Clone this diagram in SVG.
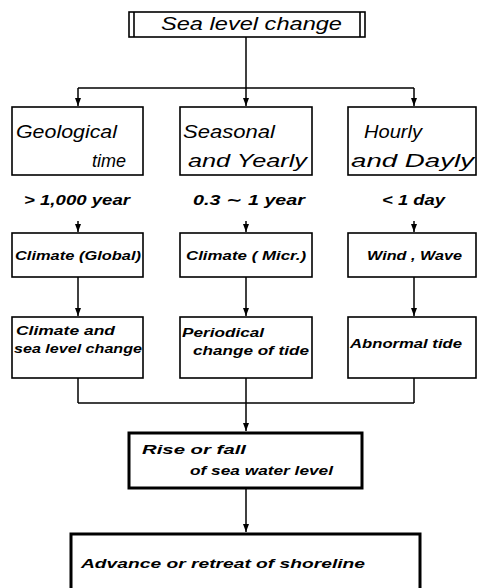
<svg xmlns="http://www.w3.org/2000/svg" width="477" height="588" viewBox="0 0 477 588">
<defs>
<marker id="ah" viewBox="0 0 8 6" refX="8" refY="3" markerWidth="8" markerHeight="6" markerUnits="userSpaceOnUse" orient="auto">
<path d="M0,0 L8,3 L0,6 Z" fill="#000"/>
</marker>
</defs>
<style>
text{font-family:"Liberation Sans","DejaVu Sans",sans-serif;font-style:italic;fill:#000}
.box{fill:#fff;stroke:#000;stroke-width:1.6}
.thick{fill:#fff;stroke:#000;stroke-width:3}
.big{font-size:18px}
.lab{font-size:15px;font-weight:bold}
.sm{font-size:13px;font-weight:bold}
.con{fill:none;stroke:#000;stroke-width:1.5}
.arr{marker-end:url(#ah)}
</style>
<rect width="477" height="588" fill="#fff"/>
<g id="connectors">
<line class="con" x1="246" y1="37" x2="246" y2="88"/>
<line class="con" x1="78" y1="88" x2="414" y2="88"/>
<line class="con arr" x1="78" y1="88" x2="78" y2="106"/>
<line class="con arr" x1="246" y1="88" x2="246" y2="106"/>
<line class="con arr" x1="414" y1="88" x2="414" y2="106"/>
<line class="con arr" x1="78" y1="221" x2="78" y2="232"/>
<line class="con arr" x1="246" y1="221" x2="246" y2="232"/>
<line class="con arr" x1="414" y1="221" x2="414" y2="232"/>
<line class="con arr" x1="78" y1="277" x2="78" y2="316"/>
<line class="con arr" x1="246" y1="277" x2="246" y2="316"/>
<line class="con arr" x1="414" y1="277" x2="414" y2="316"/>
<line class="con" x1="78" y1="378" x2="78" y2="403"/>
<line class="con" x1="414" y1="378" x2="414" y2="403"/>
<line class="con" x1="246" y1="378" x2="246" y2="403"/>
<line class="con" x1="78" y1="403" x2="414" y2="403"/>
<line class="con arr" x1="246" y1="403" x2="246" y2="431"/>
<line class="con arr" x1="246" y1="489" x2="246" y2="532"/>
</g>
<g id="sea-level-change">
<rect class="box" x="129" y="12" width="236" height="25" stroke-width="2.2"/>
<line x1="134" y1="12" x2="134" y2="37" stroke="#000" stroke-width="1.6"/>
<line x1="360" y1="12" x2="360" y2="37" stroke="#000" stroke-width="1.6"/>
<text class="big" x="161" y="30" textLength="181" lengthAdjust="spacingAndGlyphs">Sea level change</text>
</g>
<g id="geological">
<rect class="box" x="12" y="107" width="131" height="68"/>
<text class="big" x="16" y="138" textLength="101" lengthAdjust="spacingAndGlyphs">Geological</text>
<text class="big" x="126" y="167" text-anchor="end">time</text>
</g>
<g id="seasonal">
<rect class="box" x="180" y="107" width="132" height="68"/>
<text class="big" x="183" y="138" textLength="92" lengthAdjust="spacingAndGlyphs">Seasonal</text>
<text class="big" x="188" y="167" textLength="119" lengthAdjust="spacingAndGlyphs">and  Yearly</text>
</g>
<g id="hourly">
<rect class="box" x="348" y="107" width="128" height="68"/>
<text class="big" x="364" y="138" textLength="58" lengthAdjust="spacingAndGlyphs">Hourly</text>
<text class="big" x="351" y="167" textLength="123" lengthAdjust="spacingAndGlyphs">and  Dayly</text>
</g>
<g id="labels">
<text class="lab" x="24" y="205" textLength="106" lengthAdjust="spacingAndGlyphs">&gt; 1,000 year</text>
<text class="lab" x="193" y="205" textLength="112" lengthAdjust="spacingAndGlyphs">0.3 ∼ 1 year</text>
<text class="lab" x="382" y="205" textLength="63" lengthAdjust="spacingAndGlyphs">&lt; 1  day</text>
</g>
<g id="climate-global">
<rect class="box" x="12" y="233" width="131" height="44"/>
<text class="sm" x="15" y="260" textLength="126" lengthAdjust="spacingAndGlyphs">Climate (Global)</text>
</g>
<g id="climate-micr">
<rect class="box" x="180" y="233" width="132" height="44"/>
<text class="sm" x="186" y="260" textLength="120" lengthAdjust="spacingAndGlyphs">Climate ( Micr.)</text>
</g>
<g id="wind-wave">
<rect class="box" x="348" y="233" width="128" height="44"/>
<text class="sm" x="367" y="260" textLength="95" lengthAdjust="spacingAndGlyphs">Wind , Wave</text>
</g>
<g id="climate-sea-level">
<rect class="box" x="12" y="317" width="131" height="61"/>
<text class="sm" x="16" y="335" textLength="99" lengthAdjust="spacingAndGlyphs">Climate  and</text>
<text class="sm" x="14" y="353" textLength="128" lengthAdjust="spacingAndGlyphs">sea level  change</text>
</g>
<g id="periodical">
<rect class="box" x="180" y="317" width="132" height="61"/>
<text class="sm" x="182" y="337" textLength="82" lengthAdjust="spacingAndGlyphs">Periodical</text>
<text class="sm" x="193" y="355" textLength="116" lengthAdjust="spacingAndGlyphs">change of  tide</text>
</g>
<g id="abnormal-tide">
<rect class="box" x="348" y="317" width="128" height="61"/>
<text class="sm" x="350" y="348" textLength="112" lengthAdjust="spacingAndGlyphs">Abnormal   tide</text>
</g>
<g id="rise-fall">
<rect class="thick" x="129" y="433" width="233" height="55"/>
<text class="sm" x="142" y="454" textLength="104" lengthAdjust="spacingAndGlyphs">Rise  or  fall</text>
<text class="sm" x="190" y="475" textLength="143" lengthAdjust="spacingAndGlyphs">of sea water level</text>
</g>
<g id="shoreline">
<rect class="thick" x="71" y="534" width="349" height="70"/>
<text class="sm" x="81" y="568" textLength="284" lengthAdjust="spacingAndGlyphs">Advance or retreat of  shoreline</text>
</g>
</svg>
